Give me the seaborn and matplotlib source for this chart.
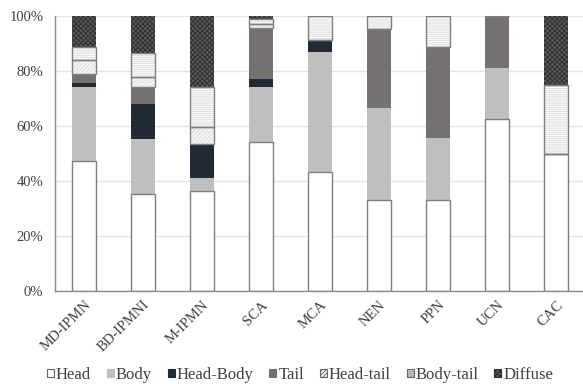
import numpy as np
import pandas as pd
import matplotlib
matplotlib.use("Agg")
import matplotlib.pyplot as plt
from matplotlib.patches import Patch
from matplotlib.ticker import FixedLocator, PercentFormatter
import seaborn as sns

# Share of tumour location (%) for each lesion type
categories = ["MD-IPMN", "BD-IPMNI", "M-IPMN", "SCA", "MCA", "NEN", "PPN", "UCN", "CAC"]
head      = [47.4, 35.2, 36.3, 54.1, 43.5, 33.3, 33.3, 62.5, 50.0]
body      = [26.9, 20.2,  5.0, 20.2, 43.5, 33.3, 22.2, 18.75, 0.0]
head_body = [ 1.5, 12.5, 12.2,  2.8,  4.3,  0.0,  0.0,  0.0, 0.0]
tail      = [ 3.2,  6.2,  0.0, 18.4,  0.0, 28.6, 33.3, 18.75, 0.0]
head_tail = [ 4.9,  3.6,  6.2,  1.6,  0.0,  0.0,  0.0,  0.0, 0.0]
body_tail = [ 4.7,  8.7, 14.4,  1.7,  8.7,  4.8, 11.2,  0.0, 25.0]
diffuse   = [11.4, 13.6, 25.9,  1.2,  0.0,  0.0,  0.0,  0.0, 25.0]

series = [
    ("Head", head),
    ("Body", body),
    ("Head-Body", head_body),
    ("Tail", tail),
    ("Head-tail", head_tail),
    ("Body-tail", body_tail),
    ("Diffuse", diffuse),
]

# fill colour, hatch, hatch colour, outlined
styles = {
    "Head":      ("#ffffff", None,       "#ffffff", True),
    "Body":      ("#bfbfbf", None,       "#bfbfbf", False),
    "Head-Body": ("#222a35", None,       "#222a35", False),
    "Tail":      ("#767171", None,       "#767171", False),
    "Head-tail": ("#f4f4f4", "////////", "#dddddd", True),
    "Body-tail": ("#ffffff", "--------", "#dadada", True),
    "Diffuse":   ("#5c5c5c", "xxxxxxx",  "#2e2e2e", False),
}

sns.set_theme(style="white")
plt.rcParams["font.family"] = ["Liberation Serif", "DejaVu Serif"]
plt.rcParams["hatch.linewidth"] = 0.7

fig = plt.figure(figsize=(5.83, 3.84), dpi=100)
ax = fig.add_axes([0.0935, 0.2414, 0.911, 0.7172])

bar_w = 0.4
base = np.zeros(len(categories))
bases = {}
for name, vals in series:
    vals = np.asarray(vals, dtype=float)
    face, hatch, hcol, _ = styles[name]
    sns.barplot(x=categories, y=vals, order=categories, bottom=base,
                color=face, saturation=1, width=bar_w, hatch=hatch,
                edgecolor=hcol, linewidth=0, ax=ax, errorbar=None, zorder=3)
    bases[name] = base.copy()
    base = base + vals

# grey outlines around the light segments
for name, vals in series:
    face, hatch, hcol, outlined = styles[name]
    if not outlined:
        continue
    vals = np.asarray(vals, dtype=float)
    sns.barplot(x=categories, y=vals, order=categories, bottom=bases[name],
                fill=False, color="#7f7f7f", saturation=1, width=bar_w,
                linewidth=1.0, ax=ax, errorbar=None, zorder=4)

ax.set_xlim(-0.5, len(categories) - 0.5)
ax.set_ylim(0, 100)
ax.set_xlabel("")
ax.set_ylabel("")

ax.yaxis.set_major_locator(FixedLocator([0, 20, 40, 60, 80, 100]))
ax.yaxis.set_major_formatter(PercentFormatter(decimals=0))
ax.grid(axis="y", color="#e4e4e4", linewidth=1.0, zorder=0)
ax.grid(axis="x", visible=False)
ax.set_axisbelow(True)

for s in ["top", "right"]:
    ax.spines[s].set_visible(False)
for s in ["left", "bottom"]:
    ax.spines[s].set_color("#8c8c8c")
    ax.spines[s].set_linewidth(1.0)
    ax.spines[s].set_zorder(5)

ax.tick_params(axis="y", length=0, pad=8, labelsize=10.5, labelcolor="#404040")
ax.tick_params(axis="x", which="major", length=0, pad=5, labelsize=10.5,
               labelcolor="#404040")
ax.set_xticks(range(len(categories)))
ax.set_xticklabels(categories, rotation=45, ha="right", rotation_mode="anchor")
ax.xaxis.set_minor_locator(FixedLocator(np.arange(-0.5, len(categories), 1.0)))
ax.tick_params(axis="x", which="minor", length=4, width=1.0, color="#8c8c8c",
               direction="out")

handles = []
for name, _ in series:
    face, hatch, hcol, outlined = styles[name]
    if outlined:
        edge = "#666666"
    elif hatch:
        edge = hcol
    else:
        edge = face
    handles.append(Patch(facecolor=face, hatch=hatch, edgecolor=edge,
                         linewidth=0.8))
leg = fig.legend(handles, [n for n, _ in series], loc="center",
                 bbox_to_anchor=(300 / 583, 1 - 375 / 384), ncol=7, frameon=False,
                 fontsize=12, handlelength=0.42, handleheight=0.42,
                 handletextpad=0.12, columnspacing=0.95, borderpad=0)
for t in leg.get_texts():
    t.set_color("#404040")

fig.savefig("out.png", dpi=100)
